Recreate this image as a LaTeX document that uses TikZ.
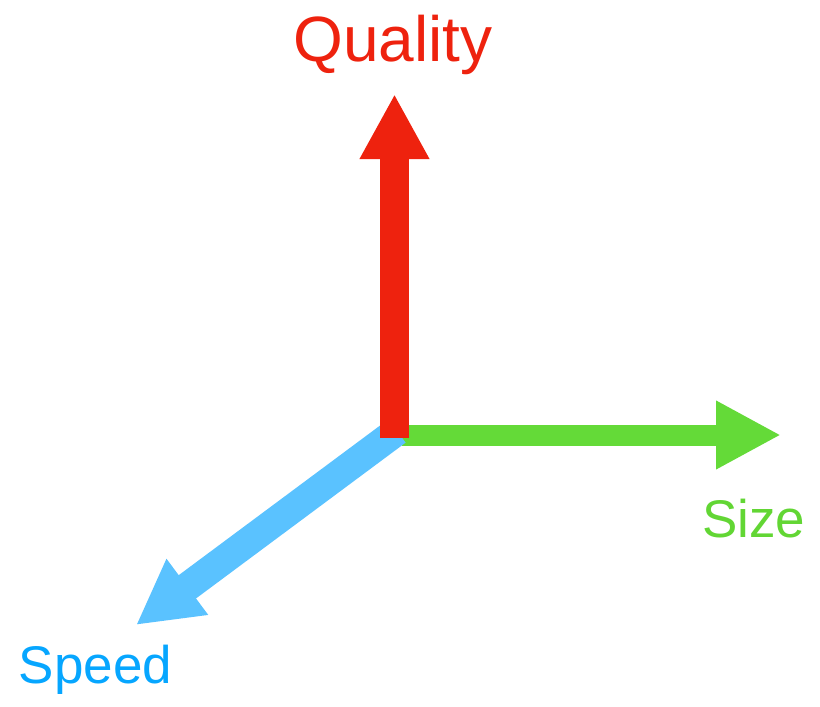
\documentclass[tikz,border=0pt]{standalone}
\usepackage{fontspec}
\setmainfont{Liberation Sans}
\usetikzlibrary{arrows.meta}
\definecolor{qred}{RGB}{238,34,14}
\definecolor{sgreen}{RGB}{100,218,56}
\definecolor{sgreentxt}{RGB}{98,214,52}
\definecolor{sblue}{RGB}{90,194,255}
\definecolor{sbluetxt}{RGB}{6,166,255}
\tikzset{
  axisarrow/.style={line cap=butt},
  lbl/.style={inner sep=0pt, outer sep=0pt}
}
\begin{document}
\begin{tikzpicture}[x=1pt,y=-1pt]
\useasboundingbox (0,0) rectangle (820,707);
\coordinate (o) at (394.5,438);
\coordinate (qtip) at (394.5,94);
\coordinate (gstart) at (402,435);
\coordinate (gtip) at (781,435);
\coordinate (bstart) at (397,431);
\coordinate (btip) at (136,625);
% green
\draw[axisarrow, draw=sgreen, line width=21pt,
  -{Triangle[length=65pt,width=64pt]}, color=sgreen] (gstart) -- (gtip);
% blue
\draw[axisarrow, draw=sblue, line width=29pt,
  -{Triangle[length=64pt,width=65pt]}, color=sblue] (bstart) -- (btip);
% red
\draw[axisarrow, draw=qred, line width=29pt,
  -{Triangle[length=65pt,width=65pt]}, color=qred] (o) -- (qtip);
% labels
\node[lbl, anchor=base, text=qred, font=\fontsize{64}{64}\selectfont] (quality) at (393,61) {Quality};
\node[lbl, anchor=base west, text=sgreentxt, font=\fontsize{53}{53}\selectfont] (size) at (702,537) {Size};
\node[lbl, anchor=base west, text=sbluetxt, font=\fontsize{53}{53}\selectfont] (speed) at (19,683) {Speed};
\end{tikzpicture}
\end{document}
